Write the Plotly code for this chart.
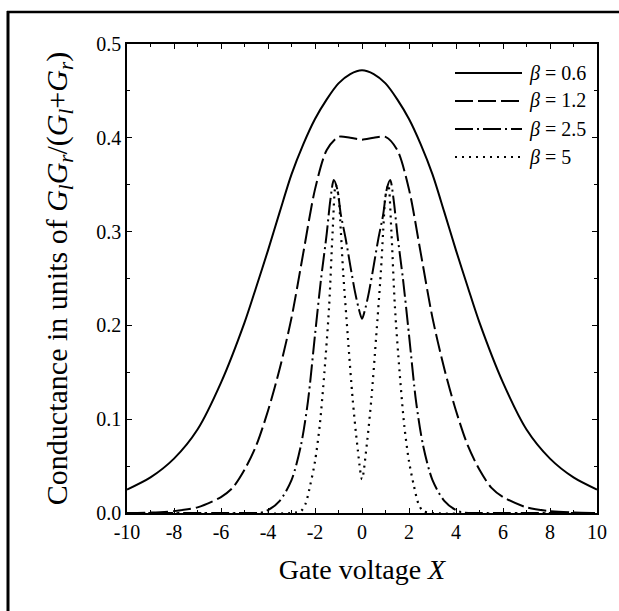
import plotly.graph_objects as go

# ---- data ----
x_b06 = [-10, -9, -8, -7, -6, -5, -4.5, -4, -3.5, -3, -2.5, -2, -1.5, -1, -0.5, 0,
         0.5, 1, 1.5, 2, 2.5, 3, 3.5, 4, 4.5, 5, 6, 7, 8, 9, 10]
y_b06 = [0.025, 0.038, 0.058, 0.089, 0.139, 0.203, 0.241, 0.280, 0.321, 0.361, 0.393, 0.420, 0.441, 0.458, 0.468, 0.472,
         0.468, 0.458, 0.441, 0.420, 0.393, 0.361, 0.321, 0.280, 0.241, 0.203, 0.139, 0.089, 0.058, 0.038, 0.025]

x_b12 = [-10, -9, -8, -7, -6, -5.5, -5, -4.5, -4, -3.5, -3, -2.5, -2, -1.5, -1, -0.5, 0,
         0.5, 1, 1.5, 2, 2.5, 3, 3.5, 4, 4.5, 5, 5.5, 6, 7, 8, 9, 10]
y_b12 = [0.0, 0.0005, 0.002, 0.006, 0.017, 0.027, 0.046, 0.072, 0.109, 0.154, 0.208, 0.277, 0.345, 0.387, 0.401, 0.400, 0.398,
         0.400, 0.401, 0.387, 0.345, 0.277, 0.208, 0.154, 0.109, 0.072, 0.046, 0.027, 0.017, 0.006, 0.002, 0.0005, 0.0]

x_b25 = [-10, -5, -4.3, -4, -3.5, -3, -2.6, -2.3, -2, -1.75, -1.5, -1.35, -1.2, -1.05, -0.9, -0.7, -0.5, -0.3, -0.15, 0,
         0.15, 0.3, 0.5, 0.7, 0.9, 1.05, 1.2, 1.35, 1.5, 1.75, 2, 2.3, 2.6, 3, 3.5, 4, 4.3, 5, 10]
y_b25 = [0.0, 0.0, 0.0005, 0.003, 0.013, 0.035, 0.072, 0.119, 0.190, 0.248, 0.298, 0.333, 0.355, 0.345, 0.318, 0.293, 0.264, 0.236, 0.219, 0.207,
         0.219, 0.236, 0.264, 0.293, 0.318, 0.345, 0.355, 0.333, 0.298, 0.248, 0.190, 0.119, 0.072, 0.035, 0.013, 0.003, 0.0005, 0.0, 0.0]

x_b5 = [-10, -3, -2.6, -2.4, -2.2, -2.0, -1.8, -1.6, -1.4, -1.25, -1.12, -1.0, -0.9, -0.8, -0.6, -0.4, -0.2, 0,
        0.2, 0.4, 0.6, 0.8, 0.9, 1.0, 1.12, 1.25, 1.4, 1.6, 1.8, 2.0, 2.2, 2.4, 2.6, 3, 10]
y_b5 = [0.0, 0.0, 0.002, 0.010, 0.030, 0.055, 0.093, 0.150, 0.220, 0.300, 0.350, 0.338, 0.300, 0.256, 0.187, 0.122, 0.072, 0.036,
        0.072, 0.122, 0.187, 0.256, 0.300, 0.338, 0.350, 0.300, 0.220, 0.150, 0.093, 0.055, 0.030, 0.010, 0.002, 0.0, 0.0]

series_labels = ["<i>β</i> = 0.6", "<i>β</i> = 1.2", "<i>β</i> = 2.5", "<i>β</i> = 5"]
x_tickvals = [-10, -8, -6, -4, -2, 0, 2, 4, 6, 8, 10]
x_ticktext = ["-10", "-8", "-6", "-4", "-2", "0", "2", "4", "6", "8", "10"]
y_tickvals = [0.0, 0.1, 0.2, 0.3, 0.4, 0.5]
y_ticktext = ["0.0", "0.1", "0.2", "0.3", "0.4", "0.5"]

FONT = "Liberation Serif"
dashes = ["solid", "18px,5px", "18px,4px,2px,4px", "2px,5px"]
widths = [2.0, 2.0, 2.0, 2.2]

fig = go.Figure()
for xs, ys, name, d, w in zip([x_b06, x_b12, x_b25, x_b5], [y_b06, y_b12, y_b25, y_b5],
                              series_labels, dashes, widths):
    fig.add_trace(go.Scatter(x=xs, y=ys, mode="lines", name=name,
                             line=dict(color="black", width=w, dash=d, shape="spline", smoothing=0.8),
                             showlegend=False))

W, H = 619, 611
L, R, T, B = 127, 22, 44, 98
pw, ph = W - L - R, H - T - B

def px(xp):
    return (xp - L) / pw

def py(yp):
    return (H - B - yp) / ph

shapes = []
annotations = []
# manual legend
leg_y = [73, 101, 129, 157]
for yy, d, w, lab in zip(leg_y, dashes, widths, series_labels):
    shapes.append(dict(type="line", xref="paper", yref="paper", x0=px(455), x1=px(522), y0=py(yy), y1=py(yy),
                       line=dict(color="black", width=w, dash=d)))
    annotations.append(dict(xref="paper", yref="paper", x=px(527), y=py(yy), text=lab, showarrow=False,
                            xanchor="left", yanchor="middle", font=dict(family=FONT, size=20, color="black")))
# outer frame of the scanned figure (left and top edges)
shapes.append(dict(type="line", xref="paper", yref="paper", x0=px(8), x1=px(8), y0=py(11), y1=py(615),
                   line=dict(color="black", width=3)))
shapes.append(dict(type="line", xref="paper", yref="paper", x0=px(7), x1=px(625), y0=py(12), y1=py(12),
                   line=dict(color="black", width=2.5)))

axis_common = dict(showline=True, linecolor="black", linewidth=1.5, mirror="ticks",
                   ticks="inside", ticklen=5, tickwidth=1, tickcolor="black",
                   showgrid=False, zeroline=False,
                   tickfont=dict(family=FONT, size=20, color="black"))

fig.update_layout(
    width=W, height=H,
    margin=dict(l=L, r=R, t=T, b=B),
    paper_bgcolor="white", plot_bgcolor="white",
    font=dict(family=FONT, color="black"),
    xaxis=dict(range=[-10, 10], tickmode="array", tickvals=x_tickvals, ticktext=x_ticktext,
               minor=dict(tickmode="linear", tick0=0, dtick=1, ticks="inside", ticklen=3, tickcolor="black"),
               title=dict(text="Gate voltage <i>X</i>", font=dict(family=FONT, size=28), standoff=18),
               **axis_common),
    yaxis=dict(range=[0, 0.5], tickmode="array", tickvals=y_tickvals, ticktext=y_ticktext,
               minor=dict(tickmode="linear", tick0=0, dtick=0.05, ticks="inside", ticklen=3, tickcolor="black"),
               title=dict(text="Conductance in units of <i>G</i><sub><i>l</i></sub><i>G</i><sub><i>r</i></sub>/(<i>G</i><sub><i>l</i></sub>+<i>G</i><sub><i>r</i></sub>)",
                          font=dict(family=FONT, size=30), standoff=20),
               **axis_common),
    shapes=shapes,
    annotations=annotations,
)

fig.write_html("out.html", config={"displayModeBar": False})

# remove the default page margin so the 619x611 figure fills the window exactly
with open("out.html", "r", encoding="utf-8") as f:
    html = f.read()
html = html.replace("<head>", "<head><style>html,body{margin:0;padding:0;overflow:hidden;}</style>", 1)
with open("out.html", "w", encoding="utf-8") as f:
    f.write(html)
